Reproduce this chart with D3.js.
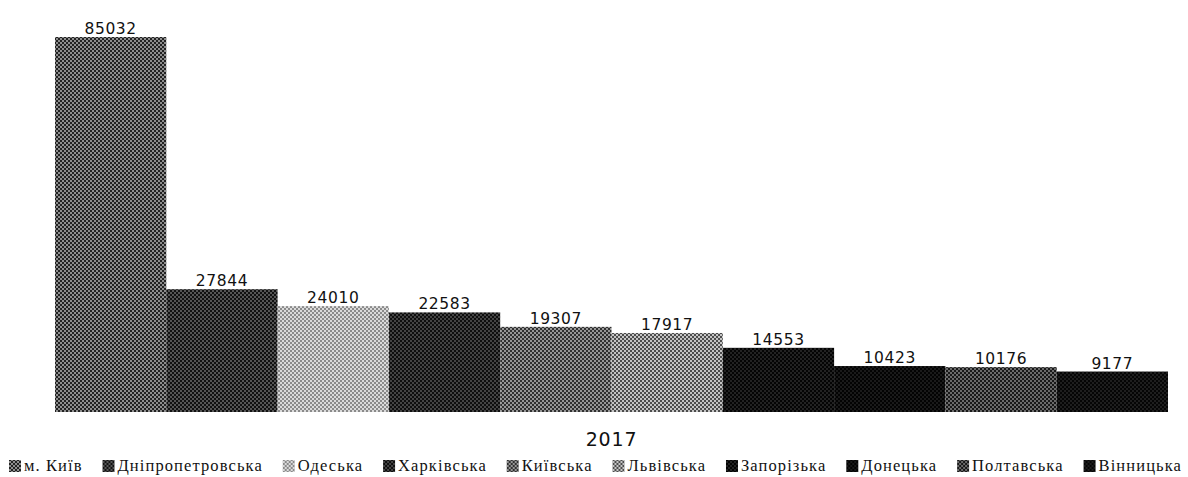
<!DOCTYPE html>
<html>
<head>
<meta charset="utf-8">
<script src="https://cdn.jsdelivr.net/npm/d3@7"></script>
<style>
  html, body { margin: 0; padding: 0; background: #fff; }
  svg { display: block; }
</style>
</head>
<body>
<svg id="svg" width="1188" height="477"></svg>
<script>
const regions = ['м. Київ', 'Дніпропетровська', 'Одеська', 'Харківська', 'Київська',
  'Львівська', 'Запорізька', 'Донецька', 'Полтавська', 'Вінницька'];
const values = [85032, 27844, 24010, 22583, 19307, 17917, 14553, 10423, 10176, 9177];
const year = '2017';

// scanned halftone look: two tones per region
const tones = [
  ['#8e8e8e', '#222'], ['#555', '#111'], ['#dadada', '#8a8a8a'], ['#444', '#0e0e0e'],
  ['#969696', '#303030'], ['#c4c4c4', '#4c4c4c'], ['#222', '#040404'], ['#1a1a1a', '#030303'],
  ['#6a6a6a', '#181818'], ['#1e1e1e', '#050505'],
];

const svg = d3.select('#svg');
const margin = { left: 55, right: 20, top: 15, bottom: 65 };
const base = 412;

const x = d3.scaleBand().domain(regions).range([margin.left, 1168]).padding(0);
const y = d3.scaleLinear().domain([0, 90000]).range([base, base - 375 * 90000 / 85032]);

// dither patterns
const defs = svg.append('defs');
tones.forEach((t, i) => {
  const p = defs.append('pattern')
    .attr('id', 'pat' + i)
    .attr('width', 4).attr('height', 4)
    .attr('patternUnits', 'userSpaceOnUse');
  p.append('rect').attr('width', 4).attr('height', 4).attr('fill', t[0]);
  p.append('rect').attr('width', 2).attr('height', 2).attr('fill', t[1]);
  p.append('rect').attr('x', 2).attr('y', 2).attr('width', 2).attr('height', 2).attr('fill', t[1]);
});

const g = svg.append('g');

g.selectAll('rect.bar')
  .data(values)
  .enter()
  .append('rect')
  .attr('class', 'bar')
  .attr('x', (d, i) => x(regions[i]))
  .attr('y', (d) => y(d))
  .attr('width', x.bandwidth())
  .attr('height', (d) => base - y(d))
  .attr('fill', (d, i) => `url(#pat${i})`);

g.selectAll('text.val')
  .data(values)
  .enter()
  .append('text')
  .attr('class', 'val')
  .attr('x', (d, i) => x(regions[i]) + x.bandwidth() / 2)
  .attr('y', (d) => y(d) - 3)
  .attr('text-anchor', 'middle')
  .attr('font-family', 'DejaVu Sans, sans-serif')
  .attr('font-size', 15.5)
  .attr('letter-spacing', 0.6)
  .attr('fill', '#111')
  .text((d) => d);

// category axis label
svg.append('text')
  .attr('x', (margin.left + 1168) / 2)
  .attr('y', 446)
  .attr('text-anchor', 'middle')
  .attr('font-family', 'DejaVu Sans, sans-serif')
  .attr('font-size', 19)
  .attr('letter-spacing', 0.8)
  .attr('fill', '#111')
  .text(year);

// legend, spread over the full width
const legend = svg.append('g').attr('class', 'legend');
const items = legend.selectAll('g.item')
  .data(regions)
  .enter()
  .append('g')
  .attr('class', 'item');
items.append('rect')
  .attr('width', 12).attr('height', 12)
  .attr('y', -11)
  .attr('fill', (d, i) => `url(#pat${i})`);
items.append('text')
  .attr('x', 15)
  .attr('font-family', 'Liberation Serif, serif')
  .attr('font-size', 16.5)
  .attr('letter-spacing', 1.1)
  .attr('fill', '#111')
  .text((d) => d);

const widths = [];
items.each(function () { widths.push(this.getBBox().width); });
const left = 9, right = 1182;
const gap = (right - left - d3.sum(widths)) / (regions.length - 1);
let cx = left;
items.attr('transform', (d, i) => {
  const t = `translate(${cx},471)`;
  cx += widths[i] + gap;
  return t;
});
</script>
</body>
</html>
